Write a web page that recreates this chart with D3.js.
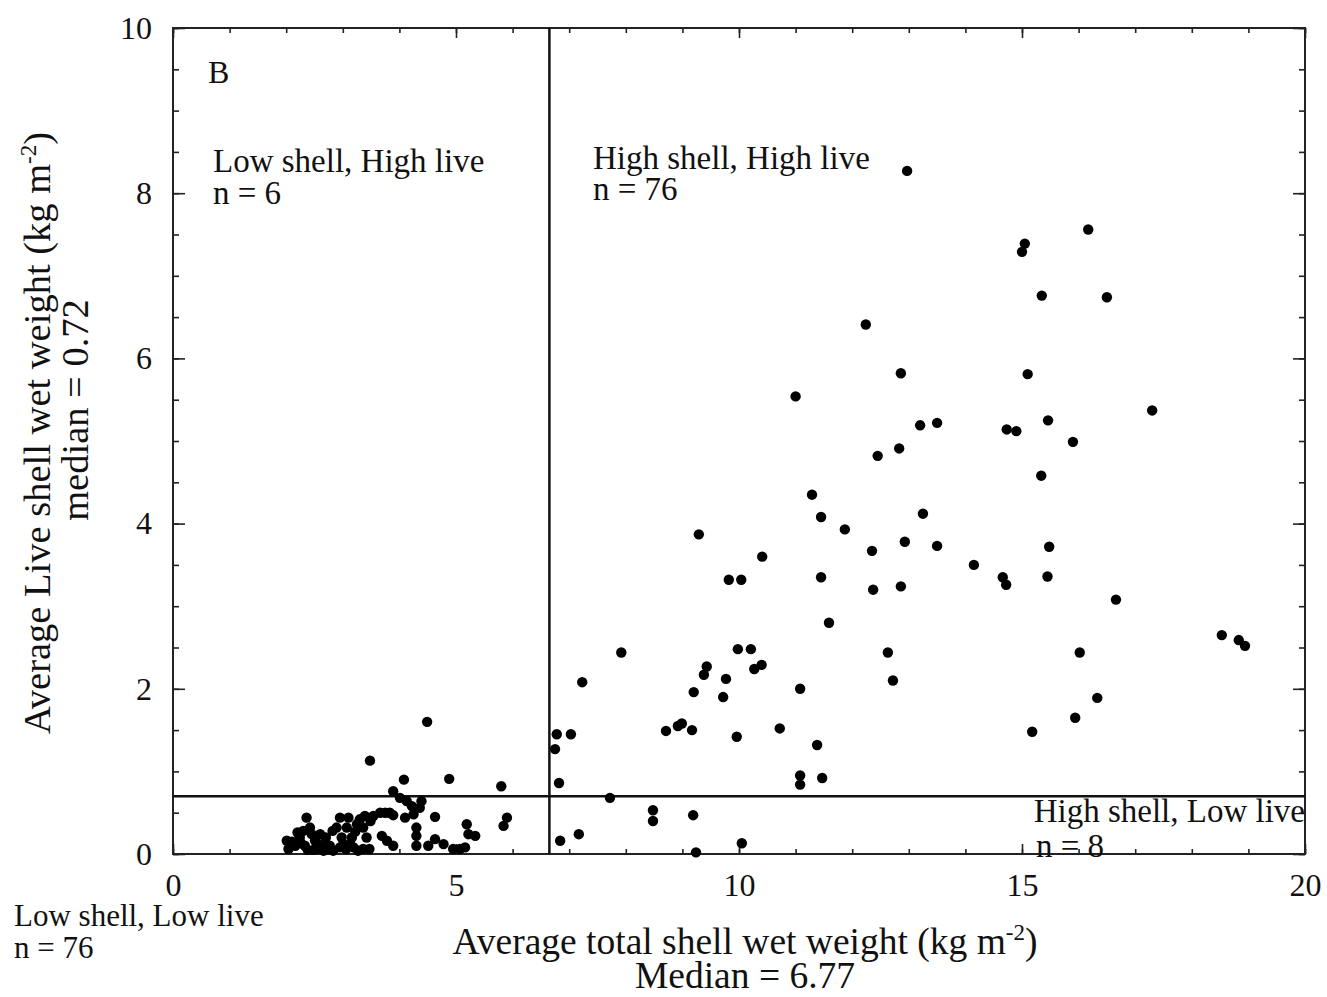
<!DOCTYPE html>
<html>
<head>
<meta charset="utf-8">
<script src="https://cdn.jsdelivr.net/npm/d3@7"></script>
<style>
  html, body { margin: 0; padding: 0; background: #fff; }
  svg { display: block; }
  text { font-family: "Liberation Serif", "DejaVu Serif", serif; fill: #111; }
</style>
</head>
<body>
<svg id="chart" width="1327" height="997"></svg>
<script>
// ---------- DATA ----------
const xTickValues = [0, 5, 10, 15, 20];
const yTickValues = [0, 2, 4, 6, 8, 10];
const xMinorTicks = d3.range(0, 20.001, 1);
const yMinorTicks = d3.range(0, 10.001, 0.5);

const medianShell = 6.65;   // drawn position of vertical median line
const medianLive = 0.70;    // drawn position of horizontal median line

// Low shell, Low live (n = 76)
const lowShellLowLiveX = [2.01,2.04,2.16,2.24,2.30,2.36,2.33,2.45,2.51,2.54,2.60,2.66,2.66,2.74,2.83,2.89,2.95,2.98,3.01,3.07,
  3.10,3.16,3.19,3.25,3.27,3.30,3.36,3.39,3.47,3.54,3.66,3.69,3.78,3.83,3.89,4.10,4.13,4.22,4.30,4.30,
  4.30,4.25,4.36,4.39,4.01,4.51,4.63,4.63,4.78,4.95,5.07,5.16,5.19,5.22,5.34,5.84,5.90,2.10,2.20,2.26,
  2.38,2.48,2.57,2.70,2.77,3.06,3.13,3.22,3.36,3.49,3.89,3.75,3.42,2.95,2.42,2.82];
const lowShellLowLiveY = [0.16,0.06,0.10,0.20,0.28,0.44,0.10,0.24,0.16,0.06,0.24,0.10,0.04,0.06,0.04,0.32,0.44,0.20,0.12,0.32,
  0.44,0.20,0.08,0.36,0.04,0.42,0.32,0.46,0.06,0.46,0.50,0.22,0.16,0.50,0.10,0.44,0.64,0.58,0.32,0.22,
  0.10,0.48,0.56,0.64,0.68,0.10,0.45,0.18,0.12,0.06,0.06,0.08,0.36,0.24,0.22,0.34,0.44,0.15,0.26,0.13,
  0.05,0.05,0.12,0.20,0.10,0.06,0.12,0.27,0.06,0.40,0.47,0.50,0.20,0.08,0.32,0.28];

// Low shell, High live (n = 6)
const lowShellHighLiveX = [3.48, 4.49, 4.08, 4.88, 5.80, 3.89];
const lowShellHighLiveY = [1.13, 1.60, 0.90, 0.91, 0.82, 0.76];

// High shell, Low live (n = 8)
const highShellLowLiveX = [7.72, 8.48, 8.48, 9.19, 6.84, 7.17, 9.24, 10.05];
const highShellLowLiveY = [0.68, 0.53, 0.40, 0.47, 0.16, 0.24, 0.02, 0.13];

// High shell, High live (n = 76)
const highShellHighLiveX = [12.97,16.17,15.05,15.00,15.35,16.50,12.24,12.86,15.10,11.00,17.30,13.20,13.50,14.73,14.90,15.46,15.90,12.45,12.83,15.34,
  11.29,11.45,13.25,11.87,9.29,10.41,12.93,13.50,15.48,12.35,14.15,14.66,14.72,15.45,11.45,9.82,10.04,12.37,12.86,16.66,
  11.59,18.53,18.83,18.94,7.92,9.98,10.21,12.63,16.02,10.40,10.27,9.43,9.38,9.77,7.23,12.72,9.20,9.72,11.08,16.33,
  15.94,15.18,8.71,8.92,8.99,9.17,10.72,9.96,11.38,6.78,7.03,6.75,6.82,11.08,11.08,11.47];
const highShellHighLiveY = [8.27,7.56,7.39,7.29,6.76,6.74,6.41,5.82,5.81,5.54,5.37,5.19,5.22,5.14,5.12,5.25,4.99,4.82,4.91,4.58,
  4.35,4.08,4.12,3.93,3.87,3.60,3.78,3.73,3.72,3.67,3.50,3.35,3.26,3.36,3.35,3.32,3.32,3.20,3.24,3.08,
  2.80,2.65,2.59,2.52,2.44,2.48,2.48,2.44,2.44,2.29,2.24,2.27,2.17,2.12,2.08,2.10,1.96,1.90,2.00,1.89,
  1.65,1.48,1.49,1.55,1.58,1.50,1.52,1.42,1.32,1.45,1.45,1.27,0.86,0.95,0.84,0.92];

// ---------- CHART ----------
const svg = d3.select("#chart");
const L = 173, R = 1305, T = 28, B = 854;
const x = d3.scaleLinear().domain([0, 20]).range([L, R]);
const y = d3.scaleLinear().domain([0, 10]).range([B, T]);

function styleAxis(g) {
  g.select(".domain").remove();
  g.selectAll(".tick line").attr("stroke", "#222").attr("stroke-width", 1.6);
  g.selectAll(".tick text").style("font-family", '"Liberation Serif", serif').style("font-size", "32px").attr("fill", "#111");
}

// minor ticks (inward) on all four sides
svg.append("g").attr("transform", `translate(0,${B})`)
  .call(d3.axisBottom(x).tickValues(xMinorTicks).tickSize(-5).tickFormat("")).call(styleAxis);
svg.append("g").attr("transform", `translate(0,${T})`)
  .call(d3.axisTop(x).tickValues(xMinorTicks).tickSize(-5).tickFormat("")).call(styleAxis);
svg.append("g").attr("transform", `translate(${L},0)`)
  .call(d3.axisLeft(y).tickValues(yMinorTicks).tickSize(-6).tickFormat("")).call(styleAxis);
svg.append("g").attr("transform", `translate(${R},0)`)
  .call(d3.axisRight(y).tickValues(yMinorTicks).tickSize(-6).tickFormat("")).call(styleAxis);

// major ticks with labels
svg.append("g").attr("transform", `translate(0,${B})`)
  .call(d3.axisBottom(x).tickValues(xTickValues).tickSize(-10).tickPadding(19).tickFormat(d3.format("d"))).call(styleAxis);
svg.append("g").attr("transform", `translate(0,${T})`)
  .call(d3.axisTop(x).tickValues(xTickValues).tickSize(-10).tickFormat("")).call(styleAxis);
svg.append("g").attr("transform", `translate(${L},0)`)
  .call(d3.axisLeft(y).tickValues(yTickValues).tickSize(-12).tickPadding(21).tickFormat(d3.format("d"))).call(styleAxis);
svg.append("g").attr("transform", `translate(${R},0)`)
  .call(d3.axisRight(y).tickValues(yTickValues).tickSize(-12).tickFormat("")).call(styleAxis);

// frame
svg.append("rect").attr("x", L).attr("y", T).attr("width", R - L).attr("height", B - T)
  .attr("fill", "none").attr("stroke", "#222").attr("stroke-width", 2);

// median lines
svg.append("line").attr("x1", x(medianShell)).attr("x2", x(medianShell)).attr("y1", T).attr("y2", B)
  .attr("stroke", "#111").attr("stroke-width", 2.5);
svg.append("line").attr("x1", L).attr("x2", R).attr("y1", y(medianLive)).attr("y2", y(medianLive))
  .attr("stroke", "#111").attr("stroke-width", 2.5);

// points
const groups = [
  [lowShellLowLiveX, lowShellLowLiveY],
  [lowShellHighLiveX, lowShellHighLiveY],
  [highShellLowLiveX, highShellLowLiveY],
  [highShellHighLiveX, highShellHighLiveY]
];
const pts = [];
groups.forEach(([xs, ys]) => xs.forEach((v, i) => pts.push([v, ys[i]])));
svg.append("g").selectAll("circle").data(pts).join("circle")
  .attr("cx", d => x(d[0])).attr("cy", d => y(d[1])).attr("r", 5.2).attr("fill", "#000");

// texts
function txt(t, px, py, size, anchor) {
  return svg.append("text").attr("x", px).attr("y", py).attr("font-size", size)
    .attr("text-anchor", anchor || "start").text(t);
}
txt("B", 208, 83, 32);
txt("Low shell, High live", 213, 172, 33);
txt("n = 6", 213, 204, 33);
txt("High shell, High live", 593, 169, 33);
txt("n = 76", 593, 200, 33);
txt("High shell, Low live", 1305, 822, 33, "end");
txt("n = 8", 1036, 857, 33);
txt("Low shell, Low live", 14, 926, 31);
txt("n = 76", 14, 958, 31);

// x label
const xl = svg.append("text").attr("x", 745).attr("y", 954).attr("font-size", 37.5).attr("text-anchor", "middle");
xl.append("tspan").text("Average total shell wet weight (kg m");
xl.append("tspan").attr("dy", -14).attr("font-size", 23).text("-2");
xl.append("tspan").attr("dy", 14).text(")");
txt("Median = 6.77", 745, 988, 37.5, "middle");

// y label
const yl = svg.append("text").attr("transform", "translate(50,433) rotate(-90)")
  .attr("font-size", 38.5).attr("text-anchor", "middle");
yl.append("tspan").text("Average Live shell wet weight (kg m");
yl.append("tspan").attr("dy", -14).attr("font-size", 23).text("-2");
yl.append("tspan").attr("dy", 14).text(")");
svg.append("text").attr("transform", "translate(88,410) rotate(-90)")
  .attr("font-size", 38.5).attr("text-anchor", "middle").text("median = 0.72");
</script>
</body>
</html>
